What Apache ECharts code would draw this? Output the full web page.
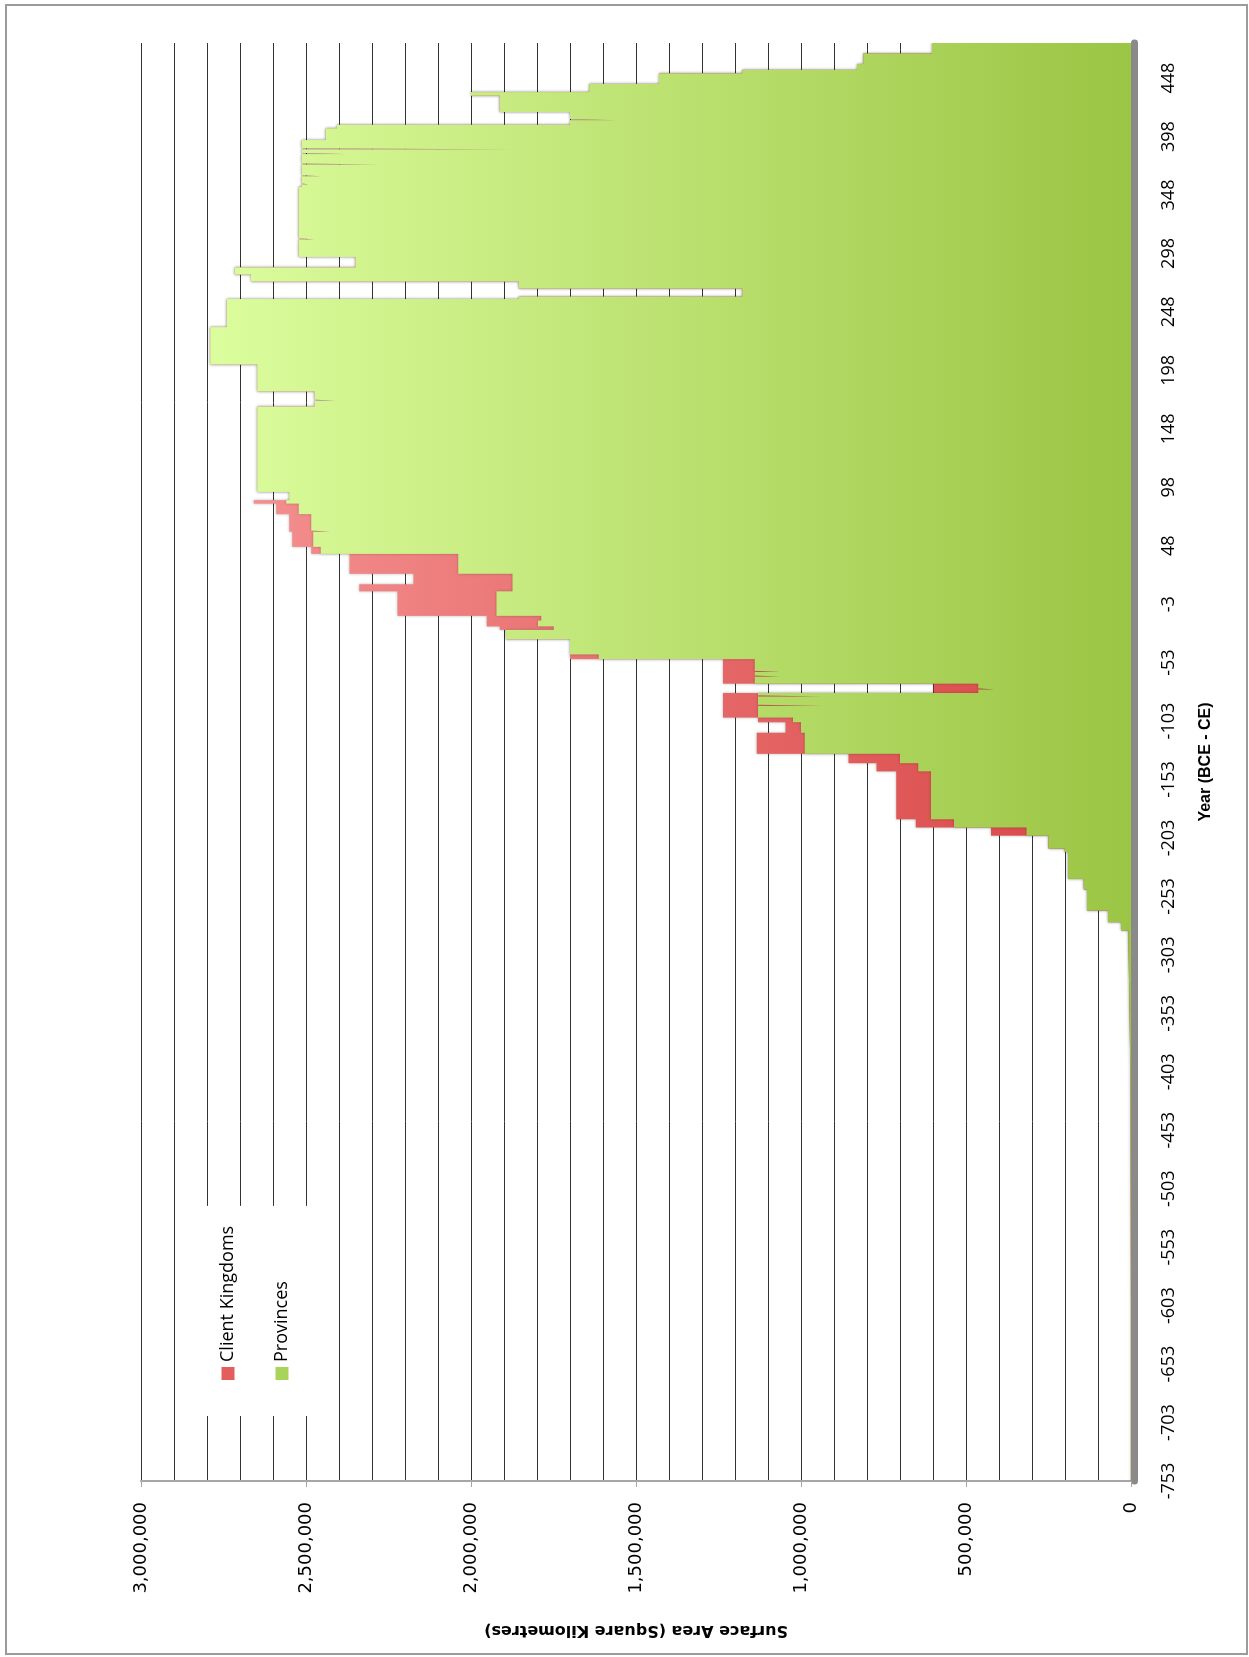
<!DOCTYPE html>
<html>
<head>
<meta charset="utf-8">
<script src="https://cdn.jsdelivr.net/npm/echarts@6/dist/echarts.min.js"></script>
<style>
html, body { margin: 0; padding: 0; background: #fff; }
#page { position: relative; width: 1249px; height: 1657px; overflow: hidden; }
/* the chart is drawn lying on its side, then turned a quarter turn left */
#chart { position: absolute; left: 0; top: 0; width: 1657px; height: 1249px;
         transform-origin: 0 0; transform: rotate(-90deg) translateX(-100%); }
#frame { position: absolute; left: 5px; top: 4px; width: 1243px; height: 1651px;
         border: 2px solid #9b9b9b; box-sizing: border-box; pointer-events: none; }
</style>
</head>
<body>
<div id="page"><div id="chart"></div><div id="frame"></div></div>
<script>
// year where a new surface area starts (BCE negative, there is no year 0)
var years = [-753, -600, -500, -400, -338, -282, -275, -265, -247, -238,
             -215, -212, -201, -194, -187, -146, -139, -131, -113, -104,
             -100, -90, -89, -82, -81, -79, -76, -75, -71, -65,
             -64, -61, -60, -50, -46, -33, -25, -22, -17, -13,
             9, 15, 24, 41, 47, 60, 61, 75, 84, 87,
             94, 167, 172, 173, 180, 203, 235, 259, 261, 268,
             274, 280, 286, 295, 310, 311, 355, 357, 358, 364,
             365, 374, 375, 383, 384, 387, 388, 395, 405, 408,
             412, 413, 419, 433, 436, 443, 452, 455, 460, 469,
             478];

// square kilometres
var provinces = [800, 1500, 2500, 5000, 8000, 30000, 70000, 133000, 143000, 191000,
                 201000, 250000, 317000, 536000, 606000, 645000, 700000, 989000, 1000000, 1024000,
                 1130000, 936000, 1130000, 936000, 1130000, 463000, 414000, 463000, 1140000, 1062000,
                 1140000, 1062000, 1140000, 1613000, 1700000, 1894000, 1749000, 1797000, 1787000, 1923000,
                 1874000, 1874000, 2039000, 2455000, 2478000, 2426000, 2484000, 2522000, 2560000, 2551000,
                 2648000, 2474000, 2412000, 2474000, 2648000, 2790000, 2740000, 1855000, 1178000, 1855000,
                 2667000, 2716000, 2350000, 2522000, 2474000, 2522000, 2513000, 2493000, 2513000, 2455000,
                 2513000, 2281000, 2513000, 2377000, 2513000, 1874000, 2513000, 2440000, 2406000, 1700000,
                 1565000, 1700000, 1913000, 2000000, 1642000, 1430000, 1178000, 830000, 811000, 603000,
                 603000];

var clientKingdoms = [0, 0, 0, 0, 0, 0, 0, 0, 0, 0,
                      0, 0, 107000, 116000, 105000, 126000, 156000, 145000, 47000, 106000,
                      106000, 300000, 106000, 300000, 106000, 135000, 184000, 135000, 96000, 174000,
                      96000, 174000, 96000, 87000, 0, 0, 164000, 155000, 165000, 300000,
                      465000, 300000, 329000, 29000, 64000, 125000, 67000, 68000, 98000, 0,
                      0, 0, 0, 0, 0, 0, 0, 0, 0, 0,
                      0, 0, 0, 0, 0, 0, 0, 0, 0, 0,
                      0, 0, 0, 0, 0, 0, 0, 0, 0, 0,
                      0, 0, 0, 0, 0, 0, 0, 0, 0, 0,
                      0];

// axis position counts years from 753 BCE, skipping year 0
function yearPos(y) { return y < 0 ? y + 753 : y + 752; }
function posLabel(p) {
    var y = p - 753;
    return String(y < 0 ? y : y + 1);
}

// client kingdoms sit on top of the provinces: draw the sum behind the green
var provData = [], topData = [];
for (var i = 0; i < years.length; i++) {
    provData.push([yearPos(years[i]), provinces[i]]);
    topData.push([yearPos(years[i]), provinces[i] + clientKingdoms[i]]);
}

var chart = echarts.init(document.getElementById('chart'), null, { width: 1657, height: 1249 });

var option = {
    animation: false,
    backgroundColor: '#fff',
    grid: { left: 176, right: 43, top: 141, bottom: 118, outerBoundsMode: 'none' },
    legend: {
        data: ['Client Kingdoms', 'Provinces'],
        orient: 'vertical',
        left: 241, top: 190,
        padding: [28, 20, 30, 36],
        backgroundColor: '#fff',
        icon: 'rect', itemWidth: 13, itemHeight: 13, itemGap: 34,
        textStyle: { fontFamily: 'Open Sans', fontSize: 18, color: '#000', lineHeight: 20 }
    },
    xAxis: {
        type: 'value', min: 0, max: 1230, interval: 50,
        offset: 3,
        name: 'Year (BCE - CE)', nameLocation: 'middle', nameGap: 64,
        nameTextStyle: { fontFamily: 'Liberation Sans', fontWeight: 'bold', fontSize: 16, color: '#000' },
        axisLine: { show: true, onZero: false, lineStyle: { color: '#8a8a8a', width: 7 } },
        axisTick: { show: false },
        axisLabel: { margin: 26, fontFamily: 'Open Sans', fontSize: 18, color: '#000',
                     showMaxLabel: false, formatter: posLabel },
        splitLine: { show: false }
    },
    yAxis: {
        type: 'value', min: 0, max: 3000000, interval: 500000,
        name: 'Surface Area (Square Kilometres)', nameLocation: 'middle', nameGap: 141,
        nameTextStyle: { fontFamily: 'DejaVu Sans', fontWeight: 'bold', fontSize: 16, color: '#000' },
        axisLine: { show: true, onZero: false, lineStyle: { color: '#a6a6a6', width: 2 } },
        axisTick: { show: true, length: 6, lineStyle: { color: '#a6a6a6', width: 1 } },
        axisLabel: { margin: 21, fontFamily: 'DejaVu Sans', fontSize: 18, color: '#000',
                     formatter: function (v) { return v.toLocaleString('en-US'); } },
        splitLine: { show: true, lineStyle: { color: '#333', width: 1 } },
        minorTick: { show: false, splitNumber: 5 },
        minorSplitLine: { show: true, lineStyle: { color: '#333', width: 1 } }
    },
    series: [
        {
            name: 'Client Kingdoms', type: 'line', step: 'end', z: 2,
            data: topData, symbol: 'none', showSymbol: false,
            lineStyle: { width: 0 },
            itemStyle: { color: '#e35d5d' },
            areaStyle: {
                opacity: 1,
                color: new echarts.graphic.LinearGradient(0, 0, 0, 1, [
                    { offset: 0, color: '#f59292' }, { offset: 1, color: '#d84444' }]),
                shadowColor: 'rgba(0,0,0,0.3)', shadowBlur: 3
            }
        },
        {
            name: 'Provinces', type: 'line', step: 'end', z: 3,
            data: provData, symbol: 'none', showSymbol: false,
            lineStyle: { width: 0 },
            itemStyle: { color: '#a9d45c' },
            areaStyle: {
                opacity: 1,
                color: new echarts.graphic.LinearGradient(0, 0, 0, 1, [
                    { offset: 0, color: '#dcfd9d' }, { offset: 1, color: '#9bc544' }]),
                shadowColor: 'rgba(0,0,0,0.25)', shadowBlur: 3
            }
        }
    ]
};

chart.setOption(option);
</script>
</body>
</html>
